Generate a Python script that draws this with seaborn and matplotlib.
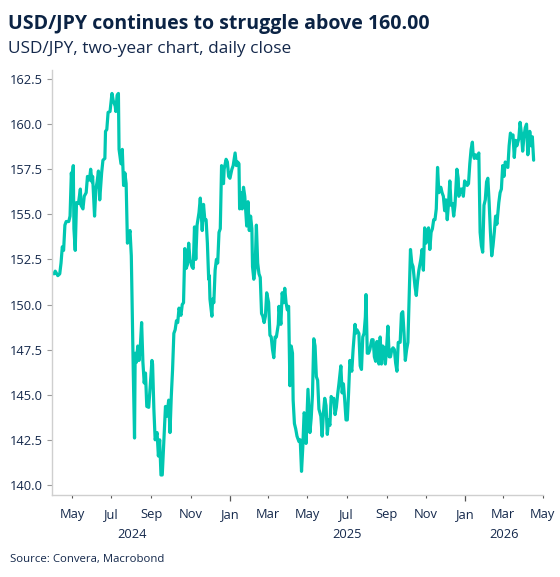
import matplotlib
matplotlib.use("Agg")
import matplotlib.pyplot as plt
import matplotlib.dates as mdates
import matplotlib.transforms as mtransforms
import seaborn as sns
import pandas as pd

# ---- data ----
days_2024 = ["04-03","04-05","04-09","04-12","04-14","04-16","04-18","04-20","04-22","04-26",
             "04-28","04-30","05-01","05-03","05-04","05-06","05-08","05-11","05-14","05-15",
             "05-18","05-20","05-23","05-25","05-28","05-30","06-01","06-02","06-05","06-07",
             "06-09","06-11","06-13","06-16","06-18","06-21","06-22","06-24","06-26","06-29",
             "07-02","07-04","07-07","07-08","07-10","07-12","07-13","07-16","07-18","07-20",
             "07-22","07-24","07-26","07-28","07-30","08-01","08-02","08-04","08-06","08-07",
             "08-09","08-11","08-13","08-15","08-17","08-19","08-21","08-23","08-25","08-28",
             "08-30","09-02","09-03","09-05","09-07","09-10","09-12","09-14","09-16","09-18",
             "09-20","09-23","09-25","09-28","09-30","10-02","10-04","10-06","10-08","10-10",
             "10-12","10-14","10-17","10-19","10-21","10-23","10-25","10-27","10-29","10-31",
             "11-03","11-05","11-07","11-09","11-11","11-14","11-16","11-18","11-19","11-21",
             "11-23","11-25","11-27","11-29","11-30","12-01","12-04","12-05","12-07","12-09",
             "12-11","12-13","12-15","12-17","12-19","12-22","12-23","12-26","12-28","12-30"]
close_2024 = [151.7,151.85,151.6,151.7,152.3,153.2,153.0,154.4,154.6,154.6,
              154.9,157.3,156.8,157.7,154.2,153.0,155.65,155.6,156.4,155.5,
              155.3,156.0,156.2,157.1,156.9,157.5,156.8,157.1,154.9,156.4,
              156.8,157.4,155.8,157.3,158.0,158.1,159.6,159.7,160.65,160.7,
              161.7,161.3,161.0,160.7,161.6,161.7,158.6,157.8,158.6,156.6,
              157.3,156.7,153.4,153.8,154.1,152.7,150.5,146.4,142.6,147.3,
              146.8,147.7,146.9,147.7,149.0,146.8,145.65,146.2,144.35,144.3,
              145.3,146.9,146.7,144.2,142.5,142.9,141.6,142.5,140.55,140.55,
              142.1,144.35,143.8,144.7,142.9,144.9,146.4,148.4,148.6,149.1,
              149.0,149.8,149.4,150.0,150.1,153.1,152.0,152.2,153.4,152.5,
              152.1,152.0,154.3,152.5,154.4,155.1,155.9,154.7,154.1,155.55,
              154.7,154.7,153.4,151.4,151.6,150.3,149.35,150.3,150.1,151.9,
              152.5,152.3,154.0,154.2,157.7,156.7,157.5,158.05,157.9,157.1]

days_2025 = ["01-01","01-04","01-06","01-09","01-11","01-13","01-15","01-16","01-19","01-20",
             "01-22","01-24","01-27","01-29","01-31","02-02","02-04","02-05","02-07","02-09",
             "02-11","02-13","02-15","02-17","02-19","02-21","02-23","02-25","02-27","03-02",
             "03-04","03-06","03-08","03-10","03-12","03-14","03-17","03-18","03-21","03-23",
             "03-25","03-27","03-29","03-31","04-02","04-03","04-04","04-06","04-08","04-09",
             "04-11","04-13","04-15","04-18","04-20","04-22","04-24","04-26","04-28","04-29",
             "05-02","05-03","05-05","05-07","05-09","05-11","05-13","05-15","05-17","05-19",
             "05-22","05-24","05-26","05-28","05-30","06-01","06-03","06-05","06-07","06-09",
             "06-11","06-13","06-15","06-17","06-19","06-22","06-24","06-26","06-28","06-30",
             "07-02","07-04","07-06","07-09","07-11","07-14","07-15","07-17","07-20","07-22",
             "07-24","07-26","07-28","07-30","07-31","08-02","08-04","08-06","08-09","08-11",
             "08-13","08-15","08-17","08-20","08-22","08-24","08-26","08-28","08-30","09-01",
             "09-03","09-05","09-07","09-09","09-11","09-13","09-15","09-17","09-19","09-22",
             "09-24","09-26","09-28","09-30","10-02","10-04","10-06","10-08","10-10","10-12",
             "10-15","10-17","10-19","10-21","10-24","10-26","10-28","10-30","11-01","11-03",
             "11-05","11-07","11-09","11-11","11-13","11-15","11-17","11-19","11-21","11-24",
             "11-26","11-28","11-30","12-02","12-04","12-06","12-08","12-10","12-12","12-14",
             "12-16","12-19","12-21","12-22","12-25","12-27","12-29","12-31"]
close_2025 = [157.0,157.5,157.7,158.4,157.7,157.9,157.8,155.3,156.2,155.3,
              156.5,156.0,154.35,155.7,154.1,154.9,154.2,152.1,151.4,152.0,
              154.4,152.3,151.7,151.5,149.5,149.35,149.0,149.35,150.65,150.1,
              148.3,148.2,147.5,147.05,148.2,148.2,148.9,149.9,148.9,150.65,
              150.1,150.9,150.1,149.7,149.9,147.7,145.5,147.7,147.3,144.7,
              143.4,143.1,142.7,142.4,142.5,140.75,142.1,144.0,143.8,142.3,
              145.3,144.5,142.9,143.7,145.0,148.1,147.7,146.0,145.8,144.2,
              143.8,142.7,144.0,144.8,144.4,142.8,143.6,143.3,144.9,144.7,
              144.8,143.9,144.3,145.0,145.6,146.6,145.1,145.6,144.7,143.6,
              143.6,145.1,146.9,146.3,147.5,148.9,148.4,148.6,148.4,146.6,
              146.4,148.2,148.4,149.3,150.55,147.3,147.3,147.5,148.05,148.05,
              147.1,146.85,147.95,146.7,148.2,146.7,147.7,147.6,146.7,147.6,
              148.8,147.1,147.1,147.5,147.6,147.5,146.75,146.3,147.9,147.9,
              149.5,149.6,148.4,146.9,147.5,147.9,150.5,153.05,152.3,152.1,
              151.0,150.5,151.3,151.9,152.5,153.05,151.9,154.25,153.4,154.0,
              154.25,153.05,154.0,154.2,154.7,154.7,155.3,157.6,156.2,156.5,
              156.2,156.0,155.2,155.8,154.7,155.6,156.85,155.5,155.6,154.9,
              155.5,157.5,157.0,156.0,156.4,156.4,156.0,156.85]

days_2026 = ["01-02","01-04","01-06","01-08","01-10","01-12","01-13","01-15","01-17","01-19",
             "01-22","01-24","01-26","01-28","01-30","02-01","02-03","02-05","02-07","02-09",
             "02-11","02-13","02-15","02-17","02-19","02-22","02-24","02-26","02-28","03-02",
             "03-04","03-06","03-08","03-10","03-12","03-14","03-16","03-18","03-20","03-22",
             "03-25","03-27","03-29","03-31","04-02","04-04","04-06","04-08","04-10","04-11",
             "04-13","04-15","04-17"]
close_2026 = [156.75,156.6,156.7,157.8,158.6,159.0,158.4,158.1,158.3,158.1,
              158.4,154.0,153.25,152.9,155.5,155.8,156.8,157.0,155.65,154.0,
              152.7,153.25,154.0,154.9,154.45,155.65,156.2,156.4,157.7,157.1,
              157.9,157.7,157.6,158.8,159.5,159.3,159.4,158.15,159.1,158.8,
              159.2,160.1,159.5,158.5,159.3,159.8,160.0,158.3,159.1,159.6,
              158.8,159.3,158.0]

y_ticks = [140.0, 142.5, 145.0, 147.5, 150.0, 152.5, 155.0, 157.5, 160.0, 162.5]
year_labels = ["2024", "2025", "2026"]
year_label_dates = ["2024-08-02", "2025-07-01", "2026-03-02"]

title = "USD/JPY continues to struggle above 160.00"
subtitle = "USD/JPY, two-year chart, daily close"
source = "Source: Convera, Macrobond"

# ---- build frame ----
dates = ([f"2024-{d}" for d in days_2024] + [f"2025-{d}" for d in days_2025]
         + [f"2026-{d}" for d in days_2026])
values = close_2024 + close_2025 + close_2026
df = pd.DataFrame({"date": pd.to_datetime(dates), "close": values})

# ---- style ----
sns.set_theme(style="white")
plt.rcParams["font.family"] = ["Open Sans", "DejaVu Sans"]
text_col = "#14284b"
line_col = "#00C7B1"
spine_col = "#cfcfcf"

fig = plt.figure(figsize=(5.6, 5.77), dpi=100)
ax = fig.add_axes([52/560, 1 - 495/577, (543.3 - 52)/560, (495 - 70)/577])

sns.lineplot(data=df, x="date", y="close", ax=ax, color=line_col, linewidth=2.3)

ax.set_xlim(pd.Timestamp("2024-03-31"), pd.Timestamp("2026-05-02"))
ax.set_ylim(139.44, 163.0)
ax.set_yticks(y_ticks)
ax.set_yticklabels([f"{v:.1f}" for v in y_ticks])
ax.set_xlabel("")
ax.set_ylabel("")

ax.xaxis.set_major_locator(mdates.MonthLocator(bymonth=[1]))
ax.xaxis.set_major_formatter(mdates.DateFormatter("%b"))
ax.xaxis.set_minor_locator(mdates.MonthLocator(bymonth=[3, 5, 7, 9, 11]))
ax.xaxis.set_minor_formatter(mdates.DateFormatter("%b"))

for s in ["top", "right"]:
    ax.spines[s].set_visible(False)
for s in ["left", "bottom"]:
    ax.spines[s].set_color(spine_col)
    ax.spines[s].set_linewidth(1.0)

ax.tick_params(axis="y", which="major", length=3.5, width=0.8, color="#9a9a9a",
               labelsize=9.3, labelcolor=text_col, pad=3, left=True)
ax.tick_params(axis="x", which="major", length=4.0, width=0.9, color="#555555",
               labelsize=9.3, labelcolor=text_col, pad=5.4, bottom=True)
ax.tick_params(axis="x", which="minor", length=2.2, width=0.8, color="#555555",
               labelsize=9.3, labelcolor=text_col, pad=7.2, bottom=True)
ax.grid(False)

trans = mtransforms.blended_transform_factory(ax.transData, ax.transAxes)
for lab, d in zip(year_labels, year_label_dates):
    ax.text(mdates.date2num(pd.Timestamp(d)), -0.078, lab, transform=trans,
            ha="center", va="top", fontsize=9.3, color=text_col)

fig.text(8/560, 1 - 29.5/577, title, fontsize=14, fontweight="bold",
         color="#0b2344", ha="left", va="baseline")
fig.text(8/560, 1 - 53/577, subtitle, fontsize=12.4, color=text_col,
         ha="left", va="baseline")
fig.text(10/560, 1 - 562/577, source, fontsize=8.2, color=text_col,
         ha="left", va="baseline")

fig.savefig("out.png", dpi=100)
